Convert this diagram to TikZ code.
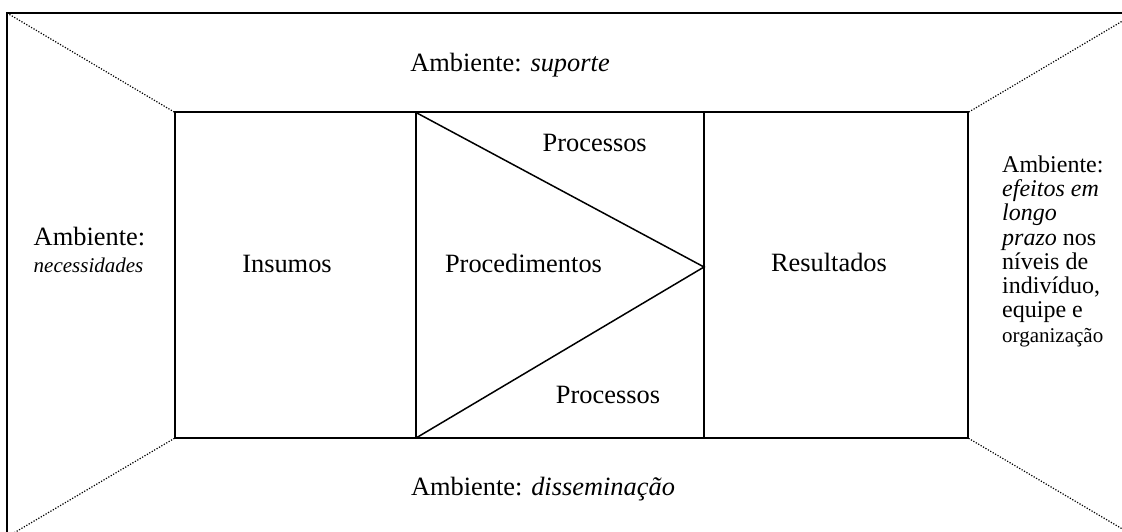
\documentclass[tikz,border=0pt]{standalone}
\usepackage{fontspec}
\setmainfont{Liberation Serif}
\begin{document}
\begin{tikzpicture}[x=1pt,y=-1pt,
  frameline/.style={line width=2pt},
  boxline/.style={line width=2pt},
  triline/.style={line width=1.5pt},
  dotline/.style={line width=1.2pt, dash pattern=on 1.2pt off 1.6pt},
  lbl/.style={font=\fontsize{26.4}{30}\selectfont, inner sep=0pt, anchor=base},
  sidelbl/.style={inner sep=0pt, anchor=north west, align=left}]
\useasboundingbox (0,0) rectangle (1122,532);
\clip (0,0) rectangle (1122,532);
% outer frame corners
\coordinate (OTL) at (7,13);
\coordinate (OTR) at (1136,13);
\coordinate (OBL) at (7,537);
\coordinate (OBR) at (1136,537);
% inner rectangle corners
\coordinate (ITL) at (175,112.5);
\coordinate (ITR) at (968,112.5);
\coordinate (IBL) at (175,438);
\coordinate (IBR) at (968,438);
\coordinate (D1T) at (416,112.5);
\coordinate (D1B) at (416,438);
\coordinate (D2T) at (704,112.5);
\coordinate (D2B) at (704,438);
\coordinate (APX) at (704,267);
\draw[frameline] (OTL) rectangle (OBR);
\draw[dotline] (OTL) -- (ITL);
\draw[dotline] (OTR) -- (ITR);
\draw[dotline] (OBL) -- (IBL);
\draw[dotline] (OBR) -- (IBR);
\draw[boxline] (ITL) rectangle (IBR);
\draw[boxline] (D1T) -- (D1B);
\draw[boxline] (D2T) -- (D2B);
\draw[triline] (D1T) -- (APX) -- (D1B);
% labels
\node[lbl] (sup) at (510,71.7) {Ambiente: \textit{suporte}};
\node[lbl] (dis) at (543,495) {Ambiente: \textit{disseminação}};
\node[lbl] (ins) at (287,272) {Insumos};
\node[lbl] (proc) at (523.5,272) {Procedimentos};
\node[lbl] (res) at (829,271) {Resultados};
\node[lbl] (p1) at (594.7,152) {Processos};
\node[lbl] (p2) at (608,403) {Processos};
\node[sidelbl, font=\fontsize{26.4}{26.7}\selectfont] (nec) at (33.5,227)
  {Ambiente:\\\fontsize{21}{26.7}\selectfont\itshape necessidades};
\node[sidelbl, font=\fontsize{24}{24.3}\selectfont] (efe) at (1002,155.3)
  {Ambiente:\\\textit{efeitos em}\\\textit{longo}\\\textit{prazo} nos\\níveis de\\indivíduo,\\equipe e\\\fontsize{21}{24.3}\selectfont organização};
\end{tikzpicture}
\end{document}
